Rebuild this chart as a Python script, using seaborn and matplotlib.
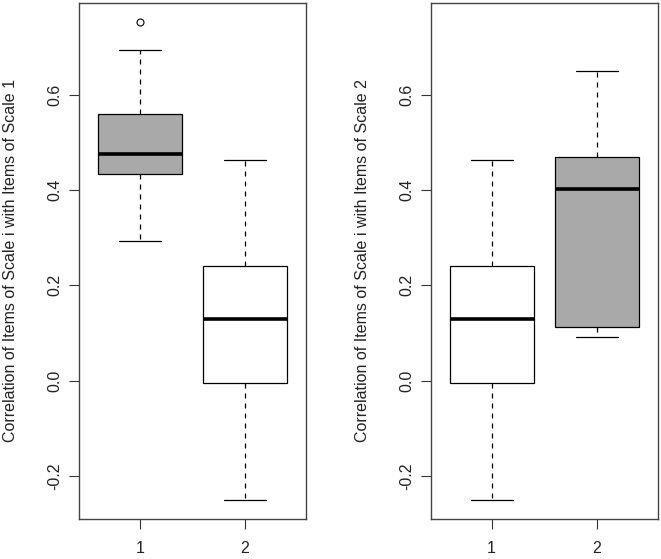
import numpy as np
import pandas as pd
import seaborn as sns
import matplotlib.pyplot as plt

sns.set_theme(style="white")
plt.rcParams['font.family'] = ['Liberation Sans', 'DejaVu Sans']

groups = ["1", "2"]
# five-number summaries: lower whisker, Q1, median, Q3, upper whisker
scale1_g1 = [0.292, 0.434, 0.476, 0.559, 0.693]
scale1_g1_outliers = [0.752]
scale1_g2 = [-0.250, -0.004, 0.129, 0.240, 0.462]
scale2_g1 = [-0.250, -0.004, 0.129, 0.240, 0.462]
scale2_g2 = [0.092, 0.112, 0.401, 0.469, 0.649]

ylabels = ["Correlation of Items of Scale i with Items of Scale 1",
           "Correlation of Items of Scale i with Items of Scale 2"]
ytick_vals = [-0.2, 0.0, 0.2, 0.4, 0.6]
ytick_labels = ["-0.2", "0.0", "0.2", "0.4", "0.6"]


def sample(summary, outliers=()):
    lo, q1, med, q3, hi = summary
    if outliers:
        return [lo, q1, q1, med, med, q3, q3, hi] + list(outliers)
    return [lo, q1, med, q3, hi]


panels = [
    (sample(scale1_g1, scale1_g1_outliers), sample(scale1_g2), {"1": "darkgray", "2": "white"}),
    (sample(scale2_g1), sample(scale2_g2), {"1": "white", "2": "darkgray"}),
]

fig = plt.figure(figsize=(6.61, 5.59), dpi=100)
positions = [[0.1195, 0.0716, 0.3434, 0.923], [0.6516, 0.0716, 0.3434, 0.923]]

for i, (a, b, pal) in enumerate(panels):
    ax = fig.add_axes(positions[i])
    df = pd.DataFrame({"group": [groups[0]] * len(a) + [groups[1]] * len(b),
                       "value": a + b})
    sns.boxplot(data=df, x="group", y="value", hue="group", order=groups,
                hue_order=groups, palette=pal, saturation=1, width=0.8,
                linewidth=0.9, linecolor="black", whis=1.5, legend=False,
                whiskerprops=dict(linestyle=(0, (4, 4))),
                medianprops=dict(linewidth=2.6, color="black"),
                flierprops=dict(marker="o", markerfacecolor="none",
                                markeredgecolor="black", markersize=5,
                                markeredgewidth=0.8),
                ax=ax)
    ax.set_xlim(-0.58, 1.58)
    ax.set_ylim(-0.290, 0.792)
    ax.set_yticks(ytick_vals)
    ax.set_yticklabels(ytick_labels)
    ax.set_xlabel("")
    ax.set_ylabel(ylabels[i], fontsize=11.5, color="#222222")
    ax.yaxis.set_label_coords(-0.268, 0.5)
    ax.tick_params(axis="both", which="both", direction="out", length=7.5,
                   width=0.8, color="#333333", labelsize=11.5,
                   labelcolor="#222222", left=True, bottom=True)
    ax.tick_params(axis="y", pad=4.5)
    ax.tick_params(axis="x", pad=8.5)
    for lab in ax.get_yticklabels():
        lab.set_rotation(90)
        lab.set_va("center")
    for sp in ax.spines.values():
        sp.set_color("#444444")
        sp.set_linewidth(1.0)

fig.savefig("out.png", dpi=100)
